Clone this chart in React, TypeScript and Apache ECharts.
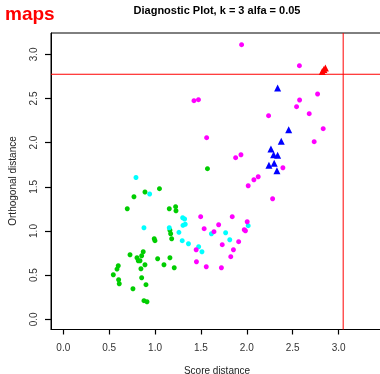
import React, { useEffect, useRef } from "react";
import * as echarts from "echarts";

const xTicks = [0, 0.5, 1, 1.5, 2, 2.5, 3];
const yTicks = [0, 0.5, 1, 1.5, 2, 2.5, 3];
const xRange = [-0.134, 3.484];
const yRange = [-0.115, 3.241];
const scoreCutoff = 3.05;
const orthCutoff = 2.774;

const greenPts = [
  [1.571, 1.705], [0.890, 1.441], [1.048, 1.479], [0.770, 1.388], [0.697, 1.252],
  [1.155, 1.252], [1.224, 1.275], [1.228, 1.229], [1.162, 1.008], [1.170, 0.969],
  [1.181, 0.912], [0.991, 0.912], [0.999, 0.890], [0.871, 0.765], [0.727, 0.731],
  [0.854, 0.720], [0.803, 0.697], [0.817, 0.663], [0.836, 0.663], [1.028, 0.686],
  [1.162, 0.697], [0.599, 0.607], [0.585, 0.569], [0.890, 0.618], [1.097, 0.618],
  [0.846, 0.573], [1.209, 0.584], [0.545, 0.505], [0.603, 0.448], [0.610, 0.403],
  [0.854, 0.471], [0.901, 0.392], [0.759, 0.346], [0.879, 0.211], [0.912, 0.199],
];

const cyanPts = [
  [0.792, 1.605], [0.941, 1.419], [1.301, 1.150], [1.322, 1.136], [1.304, 1.064],
  [1.329, 1.076], [0.879, 1.037], [1.155, 1.037], [1.260, 0.985], [1.614, 0.969],
  [1.296, 0.890], [1.364, 0.856], [1.475, 0.822], [1.511, 0.765], [2.015, 1.060],
  [1.769, 0.980], [1.814, 0.901],
];

const magentaPts = [
  [1.943, 3.109], [2.573, 2.871], [1.424, 2.475], [1.473, 2.486], [2.771, 2.551],
  [2.575, 2.483], [2.542, 2.407], [2.680, 2.328], [2.237, 2.305], [2.832, 2.158],
  [2.734, 2.011], [1.562, 2.056], [1.936, 1.863], [1.878, 1.830], [2.393, 1.716],
  [2.124, 1.614], [2.077, 1.580], [2.015, 1.512], [2.281, 1.365], [1.497, 1.162],
  [1.841, 1.162], [2.004, 1.105], [1.693, 1.071], [1.535, 1.026], [1.642, 0.992],
  [1.972, 1.014], [1.985, 1.003], [1.911, 0.879], [1.732, 0.845], [1.448, 0.788],
  [1.854, 0.788], [1.825, 0.709], [1.451, 0.652], [1.558, 0.595], [1.723, 0.584],
];

const bluePts = [
  [2.336, 2.619], [2.456, 2.146], [2.375, 2.015], [2.263, 1.928], [2.292, 1.863],
  [2.336, 1.857], [2.241, 1.743], [2.298, 1.766], [2.328, 1.682],
];

const redPts = [
  [2.822, 2.805], [2.840, 2.828], [2.856, 2.845],
];

const FONT = "'Liberation Sans', Arial, Helvetica, sans-serif";

export default function App() {
  const ref = useRef<HTMLDivElement>(null);
  useEffect(() => {
    const chart = echarts.init(ref.current!, null, { renderer: "svg" });
    const fmt = (v: number) => v.toFixed(1);
    const cutLine = (data: number[][]) => ({
      type: "line",
      data,
      symbol: "none",
      silent: true,
      z: 5,
      lineStyle: { color: "#ff0000", width: 1, type: "solid" },
      itemStyle: { color: "#ff0000" },
    });
    chart.setOption({
      animation: false,
      grid: {
        left: 51,
        top: 33,
        width: 332,
        height: 296.5,
        show: true,
        borderColor: "#000",
        borderWidth: 1,
        backgroundColor: "transparent",
      },
      xAxis: {
        type: "value",
        min: xRange[0],
        max: xRange[1],
        splitLine: { show: false },
        axisLine: { show: true, onZero: false, lineStyle: { color: "#000", width: 1 } },
        axisTick: {
          show: true,
          inside: false,
          length: 5,
          customValues: xTicks,
          lineStyle: { color: "#000", width: 1.2 },
        },
        axisLabel: {
          customValues: xTicks,
          formatter: fmt,
          fontSize: 10,
          fontFamily: FONT,
          color: "#333",
          margin: 13,
        },
      },
      yAxis: {
        type: "value",
        min: yRange[0],
        max: yRange[1],
        splitLine: { show: false },
        axisLine: { show: true, onZero: false, lineStyle: { color: "#000", width: 1 } },
        axisTick: {
          show: true,
          inside: false,
          length: 6,
          customValues: yTicks,
          lineStyle: { color: "#000", width: 1.2 },
        },
        axisLabel: {
          customValues: yTicks,
          formatter: fmt,
          rotate: 90,
          fontSize: 10,
          fontFamily: FONT,
          color: "#333",
          margin: 13,
        },
      },
      graphic: [
        {
          type: "text",
          left: 5,
          top: 4,
          style: {
            text: "maps",
            fill: "#ff0000",
            font: `bold 19px ${FONT}`,
          },
        },
        {
          type: "text",
          x: 217,
          y: 10,
          style: {
            text: "Diagnostic Plot, k = 3 alfa = 0.05",
            fill: "#000",
            font: `bold 11px ${FONT}`,
            textAlign: "center",
            textVerticalAlign: "middle",
          },
        },
        {
          type: "text",
          x: 217,
          y: 370,
          style: {
            text: "Score distance",
            fill: "#222",
            font: `10px ${FONT}`,
            textAlign: "center",
            textVerticalAlign: "middle",
          },
        },
        {
          type: "text",
          x: 12,
          y: 181,
          rotation: Math.PI / 2,
          style: {
            text: "Orthogonal distance",
            fill: "#222",
            font: `10px ${FONT}`,
            textAlign: "center",
            textVerticalAlign: "middle",
          },
        },
      ],
      series: [
        {
          type: "scatter",
          data: greenPts,
          symbol: "circle",
          symbolSize: 5,
          itemStyle: { color: "#00cd00", opacity: 1 },
          silent: true,
        },
        {
          type: "scatter",
          data: cyanPts,
          symbol: "circle",
          symbolSize: 5,
          itemStyle: { color: "#00ffff", opacity: 1 },
          silent: true,
        },
        {
          type: "scatter",
          data: magentaPts,
          symbol: "circle",
          symbolSize: 5,
          itemStyle: { color: "#ff00ff", opacity: 1 },
          silent: true,
        },
        {
          type: "scatter",
          data: bluePts,
          symbol: "triangle",
          symbolSize: 7,
          itemStyle: { color: "#0000ff", opacity: 1 },
          silent: true,
        },
        {
          type: "scatter",
          data: redPts,
          symbol: "triangle",
          symbolSize: 7,
          itemStyle: { color: "#ff0000", opacity: 1 },
          silent: true,
        },
        cutLine([
          [xRange[0], orthCutoff],
          [xRange[1], orthCutoff],
        ]),
        cutLine([
          [scoreCutoff, yRange[0]],
          [scoreCutoff, yRange[1]],
        ]),
      ],
    });
    return () => chart.dispose();
  }, []);
  return (
    <div
      ref={ref}
      style={{ position: "fixed", left: 0, top: 0, width: 390, height: 374 }}
    />
  );
}
